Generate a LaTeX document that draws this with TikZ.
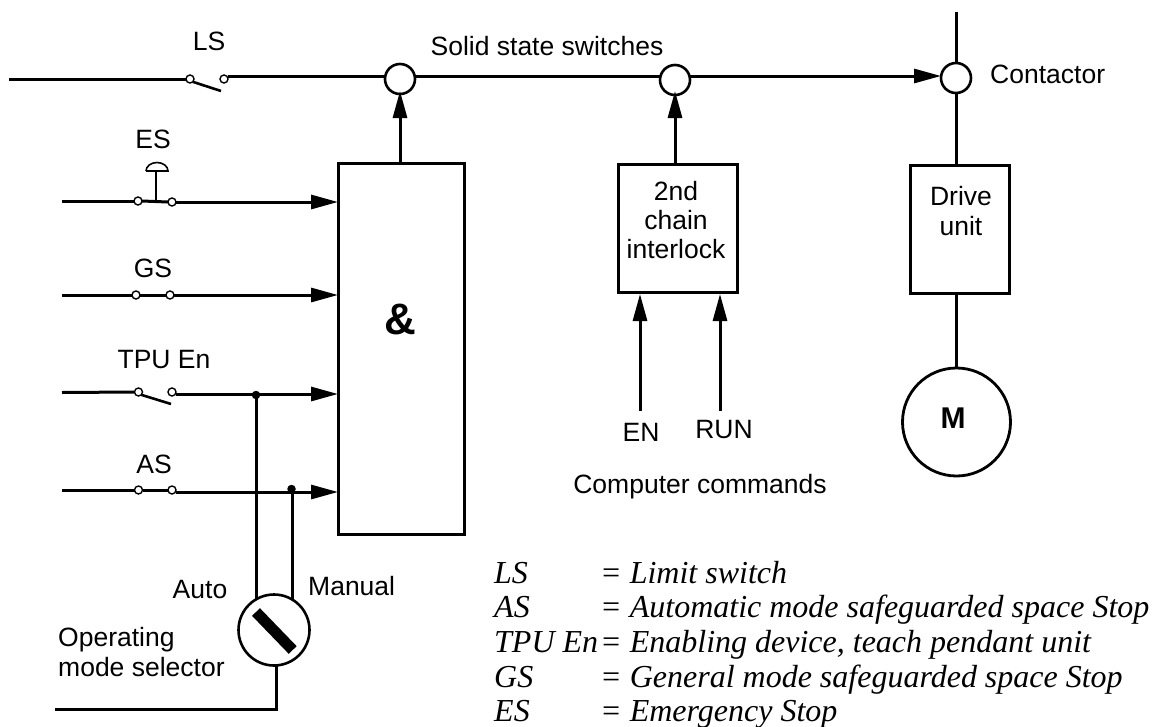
\documentclass[tikz,border=0pt]{standalone}
\usepackage{fontspec}
\setmainfont{Liberation Sans}
\newfontfamily\legendfont{Liberation Serif}
\usetikzlibrary{arrows.meta}
\tikzset{
  wire/.style={line width=3pt},
  awire/.style={wire,-{Triangle[length=27pt,width=14pt]}},
  thinwire/.style={line width=2.6pt},
  contact/.style={circle,draw,fill=white,line width=1.4pt,minimum size=8pt,inner sep=0pt,outer sep=0pt},
  junction/.style={circle,draw,fill=white,line width=2.6pt,minimum size=30pt,inner sep=0pt,outer sep=0pt},
  dot/.style={circle,fill=black,minimum size=8.5pt,inner sep=0pt,outer sep=0pt},
  blockbox/.style={draw,line width=3pt,fill=white,anchor=north west,inner sep=0pt,outer sep=0pt},
  lbl/.style={font=\fontsize{26.5pt}{29.3pt}\selectfont,inner sep=0pt,align=center},
  leg/.style={font=\legendfont\itshape\fontsize{32pt}{34pt}\selectfont,inner sep=0pt,anchor=base west},
}
\begin{document}
\begin{tikzpicture}[x=1pt,y=-1pt]
\useasboundingbox (0,0) rectangle (1162,726);
% blocks
\node[blockbox,minimum width=126pt,minimum height=371pt] (and) at (338,163) {};
\node[blockbox,minimum width=119pt,minimum height=128pt] (chain) at (618,164) {};
\node[blockbox,minimum width=99pt,minimum height=128pt] (drive) at (910,165) {};
\node[circle,draw,line width=2.8pt,minimum size=108pt,inner sep=0pt,outer sep=0pt] (motor) at (956.5,422) {};
% junction wires and circles
\coordinate (top) at (956,12);
\coordinate (jl) at (385,76);
\coordinate (jr) at (415,76);
\coordinate (jm) at (660,76);
\coordinate (jn) at (690,76);
\coordinate (jo) at (941,76);
\draw[wire] (top) -- (956,165);
\draw[wire] (drive.south -| motor.north) -- (motor.north);
\coordinate (ls2r) at (228,76);
\draw[wire] (ls2r) -- (jl);
\draw[wire] (jr) -- (jm);
\draw[awire] (jn) -- (jo);
\node[junction] (j1) at (400,79) {};
\node[junction] (j2) at (675,80) {};
\node[junction] (j3) at (956,78) {};
\draw[awire] (and.north -| j1.south) -- ([yshift=3pt]j1.south);
\draw[awire] (chain.north -| j2.south) -- ([yshift=4pt]j2.south);
% LS
\coordinate (lsin) at (9,79);
\node[contact] (ls1) at (190,79) {};
\node[contact] (ls2) at (224,79) {};
\coordinate (lsblade) at (221,91);
\draw[wire] (lsin) -- (ls1.west);
\draw[thinwire] (ls1.south east) -- (lsblade);
% ES
\coordinate (esin) at (62,201);
\node[contact] (es1) at (138,201) {};
\node[contact] (es2) at (172,202) {};
\coordinate (esm) at (156,201);
\coordinate (est) at (156,171);
\draw[wire] (esin) -- (es1.west);
\draw[wire] (es1.east) -- (es2.west);
\draw[thinwire] (esm) -- (est);
\draw[line width=1.6pt] (146,171) -- (168,171) arc[start angle=0,end angle=180,x radius=11pt,y radius=8.5pt];
\draw[awire] (es2.east) -- (and.west |- es2.east);
% GS
\coordinate (gsin) at (62,295);
\node[contact] (gs1) at (136,295) {};
\node[contact] (gs2) at (170,295) {};
\draw[wire] (gsin) -- (gs1.west);
\draw[wire] (gs1.east) -- (gs2.west);
\draw[awire] (gs2.east) -- (and.west |- gs2.east);
% TPU
\coordinate (tpin) at (62,392.5);
\node[contact] (tp1) at (138.5,392) {};
\node[contact] (tp2) at (172,392) {};
\coordinate (tpblade) at (171,404);
\coordinate (tpout) at (176,394);
\draw[wire] (tpin) -- (tp1.west);
\draw[thinwire] (tp1.south east) -- (tpblade);
\draw[awire] (tpout) -- (and.west |- tpout);
\node[dot] (d1) at (256,395) {};
% AS
\coordinate (asin) at (62,490);
\node[contact] (as1) at (138.5,490) {};
\node[contact] (as2) at (172,490) {};
\coordinate (asout) at (176,492);
\draw[wire] (asin) -- (as1.west);
\draw[wire] (as1.east) -- (as2.west);
\draw[awire] (asout) -- (and.west |- asout);
\node[dot] (d2) at (291.5,489) {};
% selector
\draw[wire] (d1.center) -- (256,602);
\draw[wire] (292.3,489) -- (292.3,602);
\node[circle,draw,fill=white,line width=2.6pt,minimum size=71pt,inner sep=0pt,outer sep=0pt] (sel) at (274,630) {};
\draw[line width=11pt] (256,612) -- (292.7,650);
\coordinate (selin) at (55,709);
\coordinate (selc) at (276.3,709);
\draw[wire] (selin) -- (selc) -- (selc |- sel.south);
% chain inputs
\coordinate (enb) at (640,411);
\coordinate (runb) at (720,411);
\draw[awire] (enb) -- (640,294);
\draw[awire] (runb) -- (720,294);
% labels
\node[lbl] (en) at (641,432) {EN};
\node[lbl] (run) at (724,430) {RUN};
\node[lbl] at (209,41) {LS};
\node[lbl] at (547,46) {Solid state switches};
\node[lbl,anchor=west] at (990,74) {Contactor};
\node[lbl] at (153,139) {ES};
\node[lbl] at (153,268) {GS};
\node[lbl] at (164,360) {TPU En};
\node[lbl] at (154,464) {AS};
\node[lbl,font=\bfseries\fontsize{44pt}{48pt}\selectfont] at (400,319) {\&};
\node[lbl] at (676,220) {2nd\\chain\\interlock};
\node[lbl] at (961,211) {Drive\\unit};
\node[lbl,font=\bfseries\fontsize{30pt}{32pt}\selectfont] at (953,418) {M};
\node[lbl] at (700,487) {Computer commands};
\node[lbl] at (200,590) {Auto};
\node[lbl,anchor=west] at (308,586) {Manual};
\node[lbl,anchor=west,align=left] at (58,652) {Operating\\mode selector};
% legend
\node[leg] at (494,583) {LS};
\node[leg] at (600,583) {= Limit switch};
\node[leg] at (494,617) {AS};
\node[leg] at (600,617) {= Automatic mode safeguarded space Stop};
\node[leg] at (494,652) {TPU En};
\node[leg] at (600,652) {= Enabling device, teach pendant unit};
\node[leg] at (494,687) {GS};
\node[leg] at (600,687) {= General mode safeguarded space Stop};
\node[leg] at (494,721) {ES};
\node[leg] at (600,721) {= Emergency Stop};
\end{tikzpicture}
\end{document}
